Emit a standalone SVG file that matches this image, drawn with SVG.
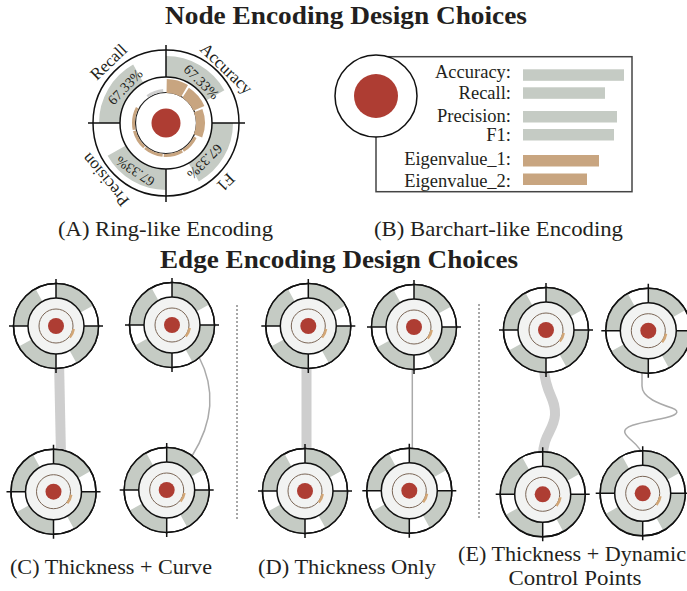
<svg xmlns="http://www.w3.org/2000/svg" xmlns:xlink="http://www.w3.org/1999/xlink" width="687" height="591" viewBox="0 0 687 591">
<style>
text{font-family:"Liberation Serif","Times New Roman",serif;fill:#231f20}
.title{font-size:25px;font-weight:bold;text-anchor:middle}
.cap{font-size:22px;text-anchor:middle}
.lbl{font-size:18.5px;text-anchor:end}
.ring{font-size:17px;text-anchor:middle}
.pct{font-size:14px;text-anchor:middle}
.ln{stroke:#111;stroke-width:1.5;fill:none}
.grey{fill:#c5cbc4}
.tan{fill:#c8a580}
.thick{stroke:#cecece;stroke-width:10;fill:none}
.thin{stroke:#aaaaaa;stroke-width:1.5;fill:none}
.sep{stroke:#8a8a8a;stroke-width:1.5;stroke-dasharray:2 2;fill:none}
</style>
<defs>
<g id="sn">
<circle r="42.5" fill="#fff" stroke="#111" stroke-width="1.5"/>
<circle r="35.25" fill="none" stroke="#c5cbc4" stroke-width="14.5" pathLength="360" stroke-dasharray="61 29" transform="rotate(-90)"/>
<circle r="42.5" fill="none" stroke="#111" stroke-width="1.5"/>
<circle r="28" fill="#f2f3f2" stroke="#111" stroke-width="1.5"/>
<circle r="17" fill="none" stroke="#7b6656" stroke-width="1"/>
<circle r="18" fill="none" stroke="#d2a676" stroke-width="2.5" pathLength="360" stroke-dasharray="0 100 30 230" transform="rotate(-90)"/>
<circle r="8" fill="#ae3d33"/>
<path d="M0,-47V-28M0,28V47M-47,0H-28M28,0H47" stroke="#111" stroke-width="1.5"/>
</g>
</defs>

<text class="title" x="346" y="23.5" textLength="362" lengthAdjust="spacingAndGlyphs">Node Encoding Design Choices</text>

<g id="nodeA" transform="translate(166,123)">
<circle r="73" fill="#fff" stroke="#111" stroke-width="1.5"/>
<circle r="56.5" fill="none" stroke="#c5cbc4" stroke-width="21" pathLength="360" stroke-dasharray="60.6 29.4" transform="rotate(-90)"/>
<circle r="46" fill="#fff" stroke="#111" stroke-width="1.5"/>
<circle r="30.5" fill="none" stroke="#222" stroke-width="1.2"/>
<circle r="32.5" fill="none" stroke="#c8a580" stroke-width="3" pathLength="360" stroke-dasharray="0 116 32 2 34 2 34 2 34 2 40 62" transform="rotate(-90)"/>
<circle r="32.5" fill="none" stroke="#cfcfcf" stroke-width="3" pathLength="360" stroke-dasharray="0 325 30 5" transform="rotate(-90)"/>
<path class="tan" d="M0.77,-43.99A44,44 0 0 1 22,-38.11L15,-25.98A30,30 0 0 0 0.52,-30Z"/>
<path class="tan" d="M22.87,-35.23A42,42 0 0 1 38.37,-17.08L27.41,-12.2A30,30 0 0 0 16.34,-25.16Z"/>
<path class="tan" d="M36.41,-13.98A39,39 0 0 1 36.16,14.61L27.82,11.24A30,30 0 0 0 28.01,-10.75Z"/>
<circle r="14.5" fill="#ae3d33"/>
<path d="M0,-78V-46M0,46V79M-78,0H-46M46,0H79" stroke="#111" stroke-width="1.5"/>
<text class="ring" transform="translate(60.7,-54.7) rotate(44)" y="6">Accuracy</text>
<text class="ring" transform="translate(-57.7,-61.3) rotate(-44)" y="6">Recall</text>
<text class="ring" transform="translate(60,59.7) rotate(135)" y="6">F1</text>
<text class="ring" transform="translate(-61,57) rotate(230)" y="6">Precision</text>
<text class="pct" transform="translate(35.7,-41.3) rotate(44)" y="5">67.33%</text>
<text class="pct" transform="translate(-41,-36.3) rotate(-46)" y="5">67.33%</text>
<text class="pct" transform="translate(39,38.7) rotate(135)" y="5">67.33%</text>
<text class="pct" transform="translate(-31,48.7) rotate(213)" y="5">67.33%</text>
</g>

<g id="nodeB">
<rect x="376" y="56.7" width="256" height="135" fill="none" stroke="#444" stroke-width="1.5"/>
<circle cx="376" cy="96" r="41" fill="#fff" stroke="#111" stroke-width="1.5"/>
<circle cx="376" cy="96" r="22" fill="#ae3d33"/>
<text class="lbl" x="511" y="78.3">Accuracy:</text>
<text class="lbl" x="511" y="99.3">Recall:</text>
<text class="lbl" x="511" y="121.7">Precision:</text>
<text class="lbl" x="511" y="140.7">F1:</text>
<text class="lbl" x="511" y="165">Eigenvalue_1:</text>
<text class="lbl" x="511" y="186.7">Eigenvalue_2:</text>
<rect class="grey" x="523" y="69.3" width="101" height="11.5"/>
<rect class="grey" x="523" y="87.3" width="82" height="11.5"/>
<rect class="grey" x="523" y="111" width="94" height="11.5"/>
<rect class="grey" x="523" y="129" width="91" height="11.5"/>
<rect class="tan" x="523" y="155" width="76" height="11.5"/>
<rect class="tan" x="523" y="173.5" width="64" height="11.5"/>
</g>

<text class="cap" x="165.5" y="236" textLength="215" lengthAdjust="spacingAndGlyphs">(A) Ring-like Encoding</text>
<text class="cap" x="498.5" y="236" textLength="249" lengthAdjust="spacingAndGlyphs">(B) Barchart-like Encoding</text>

<text class="title" x="339" y="268" textLength="358" lengthAdjust="spacingAndGlyphs">Edge Encoding Design Choices</text>

<g id="connectors">
<path class="thick" d="M59,360L61,456"/>
<path class="thin" d="M199,357Q224,405 192,456"/>
<path class="thick" d="M306.5,360L306.5,456"/>
<path class="thin" d="M412.3,362L412.3,456"/>
<path class="thick" d="M544,370C546,395 556,398 555,415C554,430 543,435 543,456"/>
<path class="thin" d="M642,370L642,386C642,398 660,404 672,408C682,412 676,416 660,419C640,423 622,426 625,433C628,440 640,444 643,456"/>
</g>

<g id="separators">
<path class="sep" d="M237,305V520"/>
<path class="sep" d="M479,304V518"/>
</g>

<g id="c1"><use xlink:href="#sn" transform="translate(56,326)"/></g>
<g id="c2"><use xlink:href="#sn" transform="translate(172,325)"/></g>
<g id="c3"><use xlink:href="#sn" transform="translate(53.5,491.7)"/></g>
<g id="c4"><use xlink:href="#sn" transform="translate(166.7,490)"/></g>
<g id="d1"><use xlink:href="#sn" transform="translate(308.3,326)"/></g>
<g id="d2"><use xlink:href="#sn" transform="translate(414,327)"/></g>
<g id="d3"><use xlink:href="#sn" transform="translate(305,491)"/></g>
<g id="d4"><use xlink:href="#sn" transform="translate(409.3,490.7)"/></g>
<g id="e1"><use xlink:href="#sn" transform="translate(546,330)"/></g>
<g id="e2"><use xlink:href="#sn" transform="translate(648.3,330.7)"/></g>
<g id="e3"><use xlink:href="#sn" transform="translate(542.7,494.3)"/></g>
<g id="e4"><use xlink:href="#sn" transform="translate(642.7,493.3)"/></g>

<text class="cap" x="111" y="574" textLength="202" lengthAdjust="spacingAndGlyphs">(C) Thickness + Curve</text>
<text class="cap" x="347" y="574" textLength="178" lengthAdjust="spacingAndGlyphs">(D) Thickness Only</text>
<text class="cap" x="572" y="561" textLength="228" lengthAdjust="spacingAndGlyphs">(E) Thickness + Dynamic</text>
<text class="cap" x="575" y="585" textLength="133" lengthAdjust="spacingAndGlyphs">Control Points</text>
</svg>
